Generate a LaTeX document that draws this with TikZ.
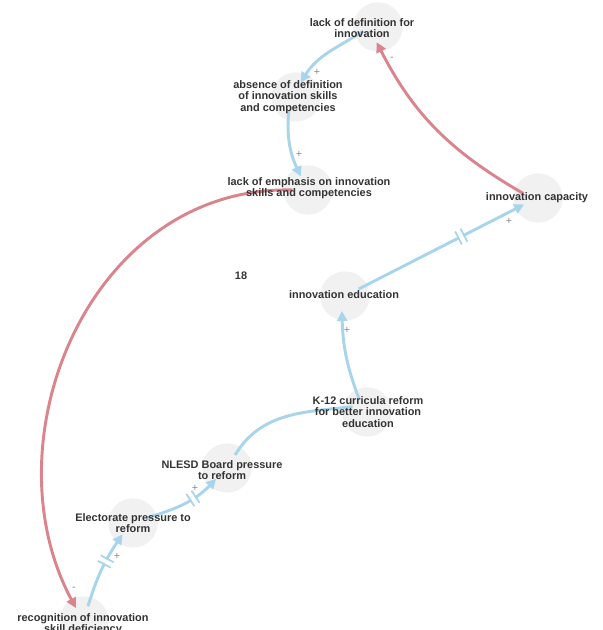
\documentclass[tikz,border=0pt]{standalone}
\usepackage{fontspec}
\setmainfont{Liberation Sans}
\usetikzlibrary{arrows.meta,decorations.markings}

\definecolor{plusblue}{HTML}{A8D5EB}
\definecolor{minusred}{HTML}{DA848E}
\definecolor{blobgray}{HTML}{F1F1F1}
\definecolor{labelgray}{HTML}{333333}
\definecolor{signgray}{HTML}{8A8A8A}

\tikzset{
  blob/.style={circle, fill=blobgray, minimum size=37pt, inner sep=0pt, outer sep=-7pt},
  var/.style={font=\bfseries\fontsize{8.2}{8.5}\selectfont, text=labelgray, align=center, inner sep=0pt},
  poslink/.style={plusblue, line width=2.2pt, -{Triangle[length=7.5pt,width=7.5pt]}},
  neglink/.style={minusred, line width=2.2pt, -{Triangle[length=7.5pt,width=7.5pt]}},
  sign/.style={font=\fontsize{8}{8}\selectfont, text=signgray, inner sep=0pt},
  delay/.style={postaction={decorate, decoration={markings, mark=at position #1 with {
      \fill[white] (-1.6pt,-1.6pt) rectangle (1.6pt,1.6pt);
      \draw[plusblue, line width=1.3pt, -] (-2.3pt,-5.5pt) -- (-2.3pt,5.5pt) (2.3pt,-5.5pt) -- (2.3pt,5.5pt);
    }}}}
}

\begin{document}
\begin{tikzpicture}[x=0.75pt, y=0.75pt]

\useasboundingbox (0,0) rectangle (602,630);

% circles
\node[blob] (ldi) at (378,603) {};
\node[blob] (absence) at (296,533) {};
\node[blob] (emph) at (308,440) {};
\node[blob] (cap) at (538,432) {};
\node[blob] (edu) at (345,334) {};
\node[blob] (k12) at (367,218) {};
\node[blob] (nlesd) at (227,162) {};
\node[blob] (elect) at (133,107) {};
\node[blob] (recog) at (84,9) {};

% links
\draw[poslink] (ldi.196) to[out=212, in=58] (absence.72);
\draw[poslink] (absence.242) to[out=265, in=115] (emph.118);
\draw[neglink] (emph.180) .. controls (90,445) and (-14,190) .. (recog.122);
\draw[neglink] (cap.163) to[out=150, in=297] (ldi.265);
\draw[poslink, delay=0.62] (edu.27) -- (cap.205);
\draw[poslink] (k12.121) to[out=111, in=272] (edu.258);
\draw[poslink, -] (nlesd.58) to[out=59, in=186] (k12.160);
\draw[poslink, delay=0.62] (elect.20) to[out=17, in=226] (nlesd.225);
\draw[poslink, delay=0.6] (recog.75) to[out=73, in=236] (elect.227);

% polarity
\node[sign] (s1) at (317,558) {+};
\node[sign] (s2) at (299,476) {+};
\node[sign] (s3) at (74,41) {-};
\node[sign] (s4) at (392,571) {-};
\node[sign] (s5) at (509,409) {+};
\node[sign] (s6) at (347,300) {+};
\node[sign] (s7) at (195,142) {+};
\node[sign] (s8) at (117,74) {+};

% names
\node[var] (ldi-t) at (362,602) {lack of definition for\\innovation};
\node[var] (absence-t) at (288,533) {absence of definition\\of innovation skills\\and competencies};
\node[var] (emph-t) at (309,442) {lack of emphasis on innovation\\skills and competencies};
\node[var] (cap-t) at (537,432) {innovation capacity};
\node[var] (edu-t) at (344,335) {innovation education};
\node[var] (k12-t) at (368,218) {K-12 curricula reform\\for better innovation\\education};
\node[var] (nlesd-t) at (222,160) {NLESD Board pressure\\to reform};
\node[var] (elect-t) at (133,107) {Electorate pressure to\\reform};
\node[var] (recog-t) at (83,6) {recognition of innovation\\skill deficiency};
\node[var] (num) at (241,354) {18};

\end{tikzpicture}
\end{document}
